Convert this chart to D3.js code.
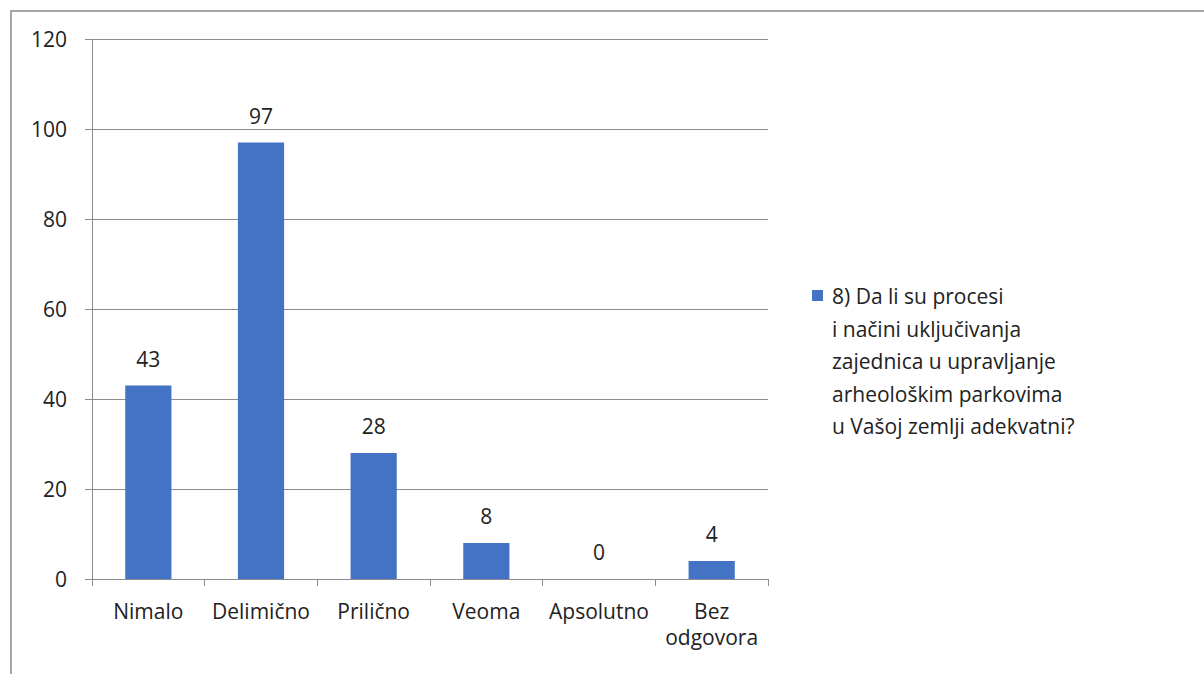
<!DOCTYPE html>
<meta charset="utf-8">
<style>
body { margin: 0; background: white; }
text { font-family: "Open Sans", sans-serif; fill: #222; font-size: 21px; }
.grid line { stroke: #8c8c8c; stroke-width: 1px; shape-rendering: crispEdges; }
</style>
<svg width="1204" height="674"></svg>
<script src="https://d3js.org/d3.v7.min.js"></script>
<script>
var categories = ["Nimalo", "Delimično", "Prilično", "Veoma", "Apsolutno", "Bez odgovora"];
var values = [43, 97, 28, 8, 0, 4];
var yTicks = [0, 20, 40, 60, 80, 100, 120];
var legendLines = ["8) Da li su procesi", "i načini uključivanja", "zajednica u upravljanje", "arheološkim parkovima", "u Vašoj zemlji adekvatni?"];

var svg = d3.select("svg"),
    margin = {top: 39, left: 92},
    width = 768 - 92,
    height = 579 - 39;

// chart frame
svg.append("rect")
    .attr("x", 11).attr("y", 11)
    .attr("width", 1300).attr("height", 800)
    .attr("fill", "none")
    .attr("stroke", "#a6a6a6")
    .attr("stroke-width", 2);

var x = d3.scaleBand().domain(categories).range([0, width]).paddingInner(0.59).paddingOuter(0.295);
var y = d3.scaleLinear().domain([0, 120]).range([height, 0]);

var g = svg.append("g").attr("transform", "translate(" + margin.left + "," + margin.top + ")");

g.append("g").attr("class", "grid")
  .selectAll("line").data(yTicks).enter().append("line")
    .attr("x1", -7).attr("x2", width)
    .attr("y1", function(d) { return y(d); })
    .attr("y2", function(d) { return y(d); });

g.append("line")
    .attr("x1", 0).attr("x2", 0).attr("y1", 0).attr("y2", height)
    .attr("stroke", "#8c8c8c").attr("shape-rendering", "crispEdges");

g.selectAll(".ylab").data(yTicks).enter().append("text")
    .attr("class", "ylab")
    .attr("x", -25)
    .attr("y", function(d) { return y(d); })
    .attr("dy", "0.36em")
    .attr("text-anchor", "end")
    .text(function(d) { return d; });

// category boundary ticks
var step = x.step();
g.selectAll(".xtick").data(d3.range(categories.length + 1)).enter().append("line")
    .attr("x1", function(i) { return i * step; })
    .attr("x2", function(i) { return i * step; })
    .attr("y1", height).attr("y2", height + 7)
    .attr("stroke", "#8c8c8c").attr("shape-rendering", "crispEdges");

g.selectAll(".bar").data(values).enter().append("rect")
    .attr("x", function(d, i) { return x(categories[i]); })
    .attr("width", x.bandwidth())
    .attr("y", function(d) { return y(d); })
    .attr("height", function(d) { return height - y(d); })
    .attr("fill", "#4472c4");

g.selectAll(".vlab").data(values).enter().append("text")
    .attr("x", function(d, i) { return x(categories[i]) + x.bandwidth() / 2; })
    .attr("y", function(d) { return y(d) - 19; })
    .attr("text-anchor", "middle")
    .text(function(d) { return d; });

// x labels, "Bez odgovora" wraps onto two lines
g.selectAll(".xlab").data(categories).enter().append("g")
    .each(function(d) {
        var words = d === "Bez odgovora" ? ["Bez", "odgovora"] : [d];
        var cx = x(d) + x.bandwidth() / 2;
        var t = d3.select(this);
        words.forEach(function(w, i) {
            t.append("text")
                .attr("x", cx)
                .attr("y", height + 40 + i * 26)
                .attr("text-anchor", "middle")
                .text(w);
        });
    });

// legend
var lg = svg.append("g").attr("transform", "translate(812,290)");
lg.append("rect").attr("width", 11).attr("height", 11).attr("fill", "#4472c4");
lg.selectAll("text").data(legendLines).enter().append("text")
    .attr("x", 20)
    .attr("y", function(d, i) { return 14 + i * 32.5; })
    .text(function(d) { return d; });
</script>
